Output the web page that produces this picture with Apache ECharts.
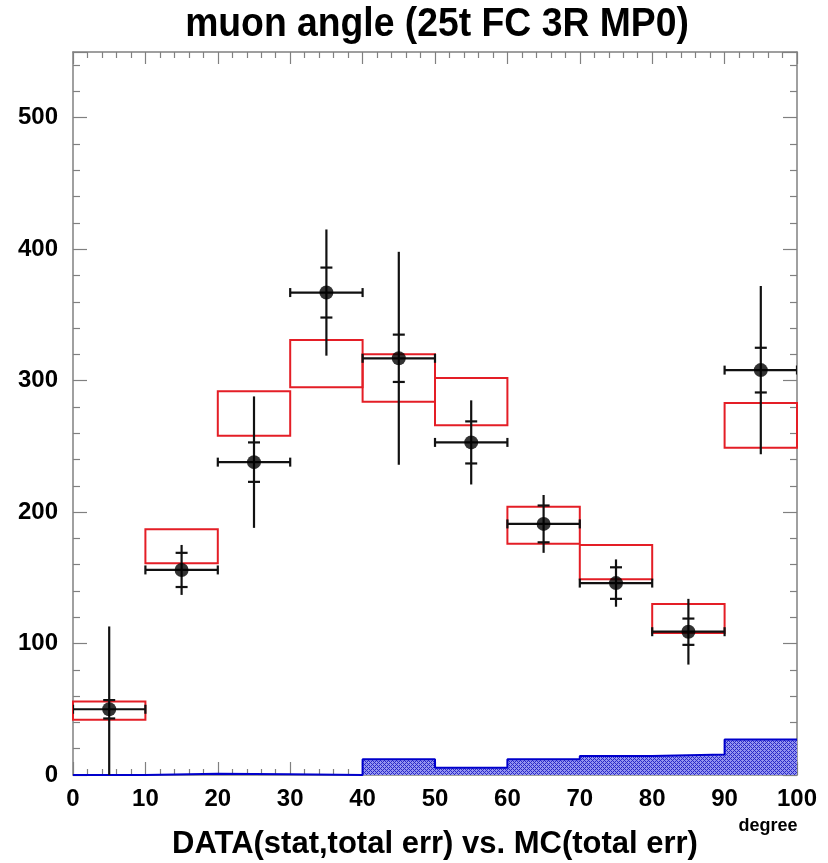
<!DOCTYPE html>
<html>
<head>
<meta charset="utf-8">
<script src="https://cdn.jsdelivr.net/npm/echarts@6/dist/echarts.min.js"></script>
<style>
html,body{margin:0;padding:0;background:#fff;}
#chart{width:828px;height:863px;}
</style>
</head>
<body>
<div id="chart"></div>
<script>
// ---- data ----
const binCenters = [5, 15, 25, 35, 45, 55, 65, 75, 85, 95];
const binHalfWidth = 5;
const dataVals  = [50, 156, 238, 367, 317, 253, 191, 146, 109, 308];
const statErr   = [7, 13, 15, 19, 18, 16, 14, 12, 10, 17];
const totalErr  = [63, 19, 50, 48, 81, 32, 22, 18, 25, 64];
const mcVals    = [49, 174, 275, 313, 302, 284, 190, 162, 119, 266];
const mcErr     = [7, 13, 17, 18, 18, 18, 14, 13, 11, 17];
const bgVals    = [0, 1, 0.5, 0, 12, 5.5, 12, 14.5, 15.5, 27];
const xTickLabels = [0, 10, 20, 30, 40, 50, 60, 70, 80, 90, 100];
const yTickLabels = [0, 100, 200, 300, 400, 500];
const titleText = 'muon angle (25t FC 3R MP0)';
const xAxisTitle = 'DATA(stat,total err) vs. MC(total err)';
const xUnit = 'degree';

const FONT = "'Liberation Sans',Arial,sans-serif";

// hatch pattern for the blue histogram
const pat = document.createElement('canvas');
pat.width = 4; pat.height = 4;
(function(){
  const c = pat.getContext('2d');
  c.fillStyle = '#9494ef'; c.fillRect(0,0,4,4);
  c.fillStyle = '#2a2ac8';
  c.fillRect(0,0,1,1); c.fillRect(2,2,1,1); c.fillRect(1,1,1,1); c.fillRect(3,3,1,1);
  c.fillRect(3,1,1,1); c.fillRect(1,3,1,1);
})();

// step data for background histogram (edges from bins)
const bgStep = binCenters.map((c, i) => [c - binHalfWidth, bgVals[i]]);
bgStep.push([binCenters[binCenters.length-1] + binHalfWidth, bgVals[bgVals.length-1]]);

const mcData = binCenters.map((c, i) => [c, mcVals[i], mcErr[i]]);
const errData = binCenters.map((c, i) => [c, dataVals[i], statErr[i], totalErr[i]]);
const ptData = binCenters.map((c, i) => [c, dataVals[i]]);

const chart = echarts.init(document.getElementById('chart'));
const axisGray = '#808080';
const xTickSet = new Set(xTickLabels);
const yTickSet = new Set(yTickLabels);

function xAxisCfg(pos, showLabel){
  return {
    type: 'value', position: pos, min: 0, max: 100, interval: 10,
    axisLine: {show: true, onZero: false, lineStyle: {color: axisGray, width: 1.5}},
    axisTick: {show: true, inside: true, length: pos === 'bottom' ? 13 : 12, lineStyle: {color: axisGray, width: 1.2}},
    minorTick: {show: true, splitNumber: 5, length: 6, lineStyle: {color: axisGray, width: 1.2}},
    splitLine: {show: false},
    axisLabel: {show: showLabel, margin: 12, color: '#000', fontFamily: FONT, fontWeight: 'bold', fontSize: 24,
      formatter: v => xTickSet.has(v) ? String(v) : ''}
  };
}
function yAxisCfg(pos, showLabel){
  return {
    type: 'value', position: pos, min: 0, max: 550, interval: 100,
    axisLine: {show: true, onZero: false, lineStyle: {color: axisGray, width: 1.5}},
    axisTick: {show: true, inside: true, length: 14, lineStyle: {color: axisGray, width: 1.2}},
    minorTick: {show: true, splitNumber: 5, length: 7, lineStyle: {color: axisGray, width: 1.2}},
    splitLine: {show: false},
    axisLabel: {show: showLabel, margin: 15, color: '#000', fontFamily: FONT, fontWeight: 'bold', fontSize: 24,
      formatter: v => yTickSet.has(v) ? String(v) : ''}
  };
}

chart.setOption({
  animation: false,
  backgroundColor: '#fff',
  grid: {left: 73, right: 31, top: 52, bottom: 88, containLabel: false},
  xAxis: [xAxisCfg('bottom', true), xAxisCfg('top', false)],
  yAxis: [yAxisCfg('left', true), yAxisCfg('right', false)],
  graphic: [
    {type: 'text', x: 437, y: 4, scaleX: 0.91, style: {text: titleText, fontFamily: FONT, fontWeight: 'bold', fontSize: 41, fill: '#000', textAlign: 'center', textVerticalAlign: 'top'}},
    {type: 'text', x: 435, y: 829, style: {text: xAxisTitle, fontFamily: FONT, fontWeight: 'bold', fontSize: 31, fill: '#000', textAlign: 'center', textVerticalAlign: 'top'}},
    {type: 'text', x: 768, y: 817, style: {text: xUnit, fontFamily: FONT, fontWeight: 'bold', fontSize: 18, fill: '#000', textAlign: 'center', textVerticalAlign: 'top'}}
  ],
  series: [
    {
      type: 'line', data: bgStep, step: 'end', showSymbol: false, z: 1,
      lineStyle: {color: '#0000cc', width: 2},
      areaStyle: {color: {image: pat, repeat: 'repeat'}, opacity: 1}
    },
    {
      type: 'custom', data: mcData, z: 3,
      renderItem: function(params, api){
        const c = api.value(0), v = api.value(1), e = api.value(2);
        const p1 = api.coord([c - binHalfWidth, v + e]);
        const p2 = api.coord([c + binHalfWidth, v - e]);
        return {type: 'rect', shape: {x: p1[0], y: p1[1], width: p2[0]-p1[0], height: p2[1]-p1[1]},
          style: {fill: 'none', stroke: '#e41e26', lineWidth: 2}};
      }
    },
    {
      type: 'custom', data: errData, z: 4, clip: true,
      renderItem: function(params, api){
        const c = api.value(0), v = api.value(1), s = api.value(2), t = api.value(3);
        const ctr = api.coord([c, v]);
        const top = api.coord([c, v + t]);
        const bot = api.coord([c, Math.max(0, v - t)]);
        const l = api.coord([c - binHalfWidth, v]);
        const r = api.coord([c + binHalfWidth, v]);
        const sTop = api.coord([c, v + s]);
        const sBot = api.coord([c, v - s]);
        const st = {stroke: '#111', lineWidth: 2.2};
        const cap = 4.5, stw = 6;
        return {type: 'group', children: [
          {type: 'line', shape: {x1: top[0], y1: top[1], x2: bot[0], y2: bot[1]}, style: st},
          {type: 'line', shape: {x1: l[0], y1: l[1], x2: r[0], y2: r[1]}, style: st},
          {type: 'line', shape: {x1: l[0], y1: l[1]-cap, x2: l[0], y2: l[1]+cap}, style: st},
          {type: 'line', shape: {x1: r[0], y1: r[1]-cap, x2: r[0], y2: r[1]+cap}, style: st},
          {type: 'line', shape: {x1: ctr[0]-stw, y1: sTop[1], x2: ctr[0]+stw, y2: sTop[1]}, style: st},
          {type: 'line', shape: {x1: ctr[0]-stw, y1: sBot[1], x2: ctr[0]+stw, y2: sBot[1]}, style: st}
        ]};
      }
    },
    {
      type: 'scatter', data: ptData, z: 5, symbol: 'circle', symbolSize: 14,
      itemStyle: {color: '#000'}
    }
  ]
});
</script>
</body>
</html>
